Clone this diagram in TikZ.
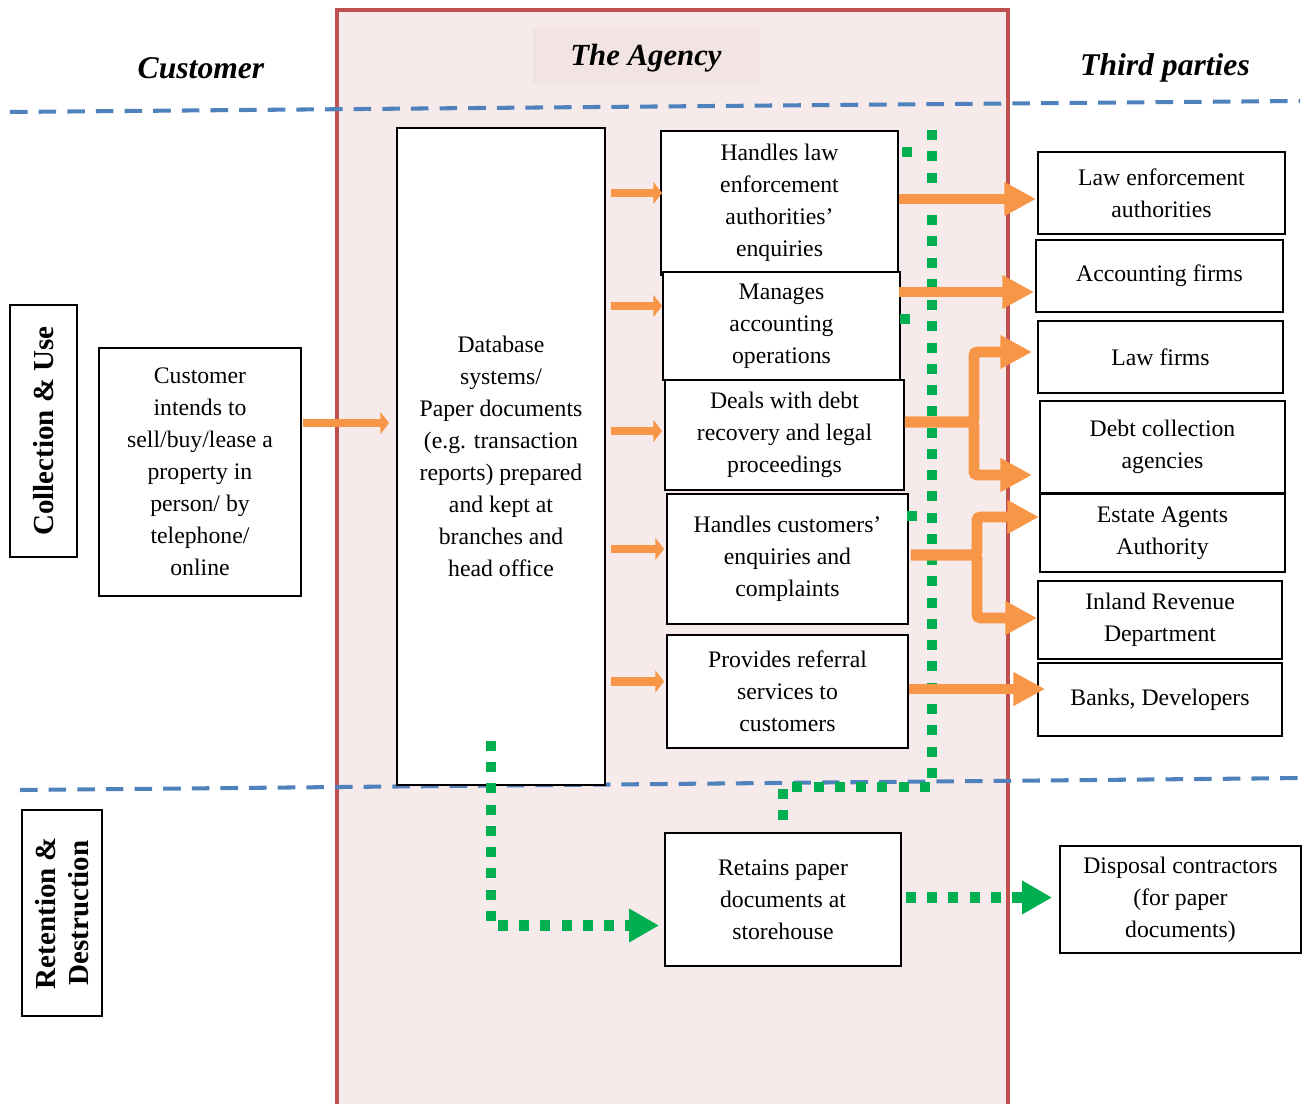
\documentclass[tikz,border=0pt]{standalone}
\usepackage{fontspec}
\setmainfont{Liberation Serif}
\usepackage{tikz}
\usetikzlibrary{calc,arrows.meta,positioning}
\definecolor{agencybg}{RGB}{246,234,234}
\definecolor{agencytitle}{RGB}{243,228,228}
\definecolor{agencyred}{RGB}{192,80,77}
\definecolor{flowor}{RGB}{247,150,70}
\definecolor{keepgreen}{RGB}{0,176,80}
\definecolor{phaseblue}{RGB}{79,129,189}

\begin{document}
\begin{tikzpicture}
[x=0.02cm, y=-0.02cm, >=Latex, every node/.style={font=\fontsize{13.5}{18.2}\selectfont}]
% Define styles for boxes, headings and flows
\tikzstyle{box} = [draw, line width=1.1pt, fill=white, rectangle, align=center, inner sep=2pt]
\tikzstyle{phase} = [draw, line width=1.1pt, rectangle, rotate=90, align=center, font=\fontsize{16.5}{19}\selectfont\bfseries]
\tikzstyle{heading} = [font=\fontsize{18}{20}\selectfont\bfseries\itshape]
\tikzstyle{sepline} = [draw=phaseblue, line width=2.3pt, dash pattern=on 10pt off 6.3pt]
\tikzstyle{bigflow} = [draw=flowor, line width=6.2pt, -{Triangle[length=18pt,width=18pt]}, rounded corners=2pt]
\tikzstyle{smallflow} = [draw=flowor, line width=5pt, -{Triangle[length=5pt,width=12.5pt]}]
\tikzstyle{gdots} = [draw=keepgreen, line width=5.7pt, dash pattern=on 5.7pt off 6.4pt]
\tikzstyle{gflow} = [gdots, -{Triangle[length=17pt,width=18pt]}]

\useasboundingbox (0,0) rectangle (1308,1104);

% The agency column
\fill[agencybg] (337,10) rectangle (1008,1110);
\fill[agencytitle] (533,27) rectangle (760,84);
\draw[agencyred, line width=2.4pt] (337,1110) -- (337,10) -- (1008,10) -- (1008,1110);

% Headings
\node [heading] (custhead) at (201,68) {Customer};
\node [heading, font=\fontsize{17.5}{20}\selectfont\bfseries\itshape] (agencyhead) at (646,58) {The Agency};
\node [heading] (thirdhead) at (1165,68) {Third parties};

% Phase separators
\draw[sepline] (10,112) -- (1300,101);
\draw[sepline] (20,790) -- (1308,778);

% Phase labels
\node [phase, minimum width=5.04cm, minimum height=1.34cm] (coluse) at (43.5,431) {Collection \& Use};
\node [phase, minimum width=4.12cm, minimum height=1.6cm] (retdes) at (62,913) {Retention \&\\Destruction};

% Nodes placement
\node [box, minimum width=4.04cm, minimum height=4.96cm] (cust) at (200,472) {Customer\\intends to\\sell/buy/lease a\\property in\\person/ by\\telephone/\\online};
\node [box, minimum width=4.16cm, minimum height=13.14cm] (db) at (501,456.5) {Database\\systems/\\Paper documents\\(e.g. transaction\\reports) prepared\\and kept at\\branches and\\head office};
\node [box, minimum width=4.74cm, minimum height=2.88cm] (law) at (779.5,203) {Handles law\\enforcement\\authorities’\\enquiries};
\node [box, minimum width=4.74cm, minimum height=2.16cm] (acc) at (781.5,326) {Manages\\accounting\\operations};
\node [box, minimum width=4.78cm, minimum height=2.2cm] (debt) at (784.5,435) {Deals with debt\\recovery and legal\\proceedings};
\node [box, minimum width=4.82cm, minimum height=2.6cm] (enq) at (787.5,559) {Handles customers’\\enquiries and\\complaints};
\node [box, minimum width=4.82cm, minimum height=2.26cm] (ref) at (787.5,691.5) {Provides referral\\services to\\customers};
\node [box, minimum width=4.72cm, minimum height=2.66cm] (store) at (783,899.5) {Retains paper\\documents at\\storehouse};

\node [box, minimum width=4.94cm, minimum height=1.64cm] (tlaw) at (1161.5,193) {Law enforcement\\authorities};
\node [box, minimum width=4.94cm, minimum height=1.44cm] (tacc) at (1159.5,276) {Accounting firms};
\node [box, minimum width=4.9cm, minimum height=1.44cm] (tlawf) at (1160.5,357) {Law firms};
\node [box, minimum width=4.9cm, minimum height=1.84cm] (tdebt) at (1162.5,447) {Debt collection\\agencies};
\node [box, minimum width=4.9cm, minimum height=1.56cm] (teaa) at (1162.5,533) {Estate Agents\\Authority};
\node [box, minimum width=4.88cm, minimum height=1.56cm] (tird) at (1160,620) {Inland Revenue\\Department};
\node [box, minimum width=4.88cm, minimum height=1.46cm] (tbank) at (1160,699.5) {Banks, Developers};
\node [box, minimum width=4.82cm, minimum height=2.14cm] (tdisp) at (1180.5,899.5) {Disposal contractors\\(for paper\\documents)};

% Draw edges
\draw[smallflow] ($(cust.east)+(1,-49)$) -- ($(db.west)+(-7,-33.5)$);
\draw[smallflow] ($(db.east |- law.west)+(5,-10)$) -- ($(law.west)+(2,-10)$);
\draw[smallflow] ($(db.east |- acc.west)+(5,-20)$) -- ($(acc.west)+(0,-20)$);
\draw[smallflow] ($(db.east |- debt.west)+(5,-4)$) -- ($(debt.west)+(-2,-4)$);
\draw[smallflow] ($(db.east |- enq.west)+(5,-10)$) -- ($(enq.west)+(-2,-10)$);
\draw[smallflow] ($(db.east |- ref.west)+(5,-10)$) -- ($(ref.west)+(-2,-10)$);

% Green retention path
\coordinate (gtop) at (932,130);
\coordinate (gcorner) at (932,787);
\draw[gdots] (gtop) -- (gcorner) -| ($(store.north)+(0,-11)$);
\draw[gflow] ($(db.south)+(-10,-45)$) |- ($(store.west)+(-5,26)$);
\draw[gflow] ($(store.east)+(4,-2)$) -- ($(tdisp.west)+(-7,-2)$);
\fill[keepgreen] (902,147) rectangle (912,157);
\fill[keepgreen] (900,314) rectangle (910,324);
\fill[keepgreen] (907,511) rectangle (917,521);

% Flows to third parties
\draw[bigflow] ($(law.east)+(0,-4)$) -- ($(law.east -| tlaw.west)+(-1,-4)$);
\draw[bigflow] ($(acc.east)+(-2,-34)$) -- ($(acc.east -| tacc.west)+(-1,-34)$);
\draw[bigflow] ($(debt.east)+(0,-13)$) -- ++(69,0) |- ($(tlawf.west)+(-5,-5)$);
\draw[bigflow] ($(debt.east)+(0,-13)$) -- ++(69,0) |- ($(tdebt.west)+(-7,28)$);
\draw[bigflow] ($(enq.east)+(2,-4)$) -- ++(66,0) |- ($(teaa.west)+(0,-16)$);
\draw[bigflow] ($(enq.east)+(2,-4)$) -- ++(66,0) |- ($(tird.west)+(0,-2)$);
\draw[bigflow] ($(ref.east)+(0,-2.5)$) -- ($(ref.east -| tbank.west)+(8,-2.5)$);
\end{tikzpicture}
\end{document}
